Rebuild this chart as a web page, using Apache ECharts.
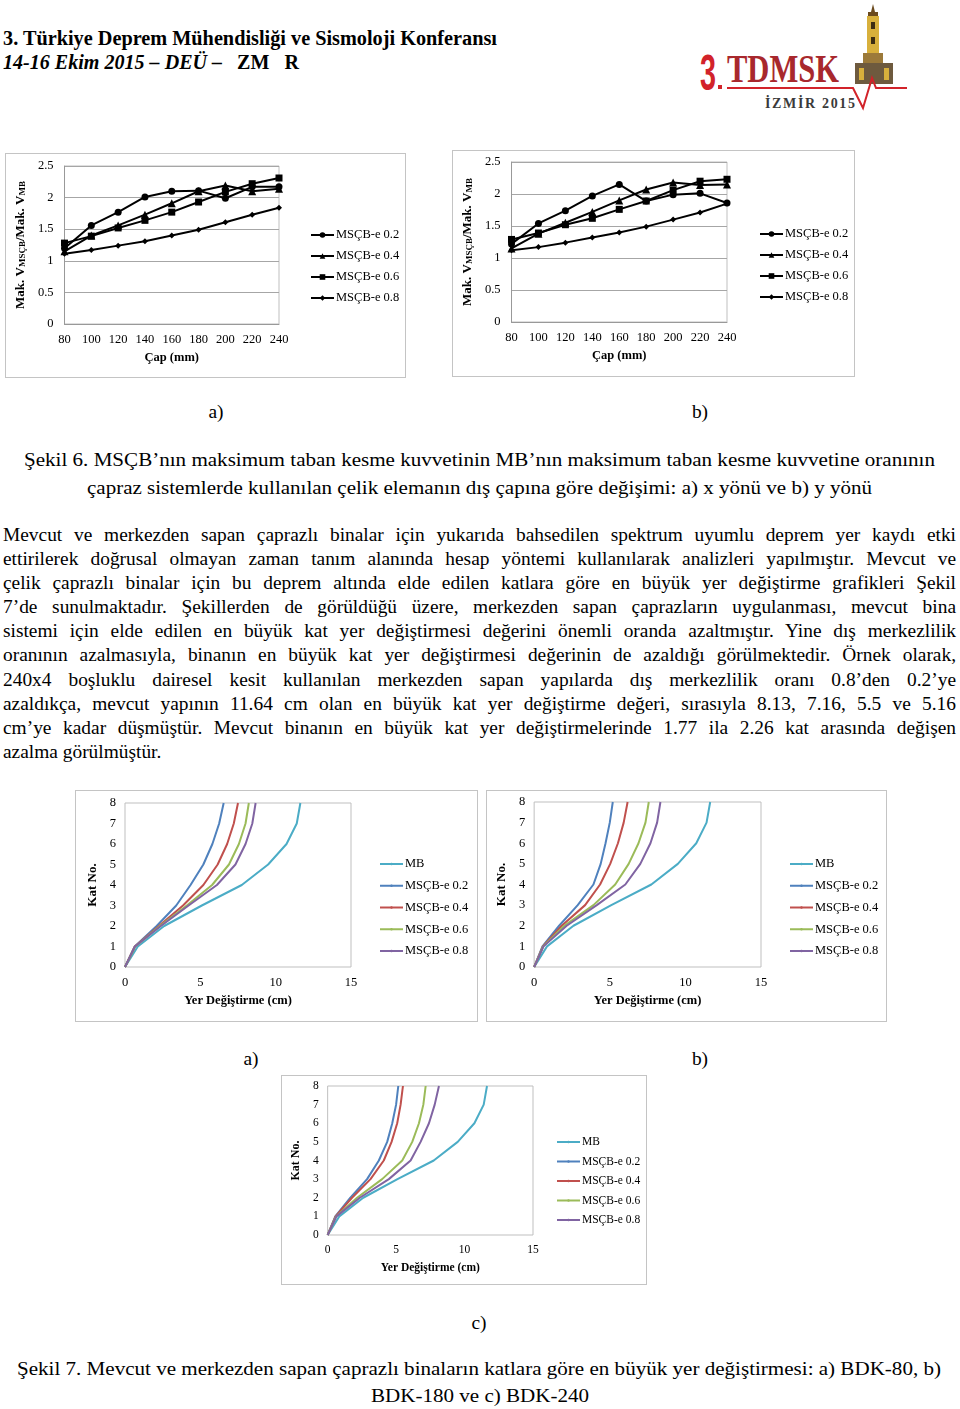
<!DOCTYPE html>
<html>
<head>
<meta charset="utf-8">
<script src="https://cdn.jsdelivr.net/npm/echarts/dist/echarts.min.js"></script>
<style>
  body { margin: 0; width: 960px; height: 1409px; position: relative; background: #fff;
         font-family: 'Liberation Serif', 'Times New Roman', serif; color: #000; overflow: hidden; }
  .t { position: absolute; white-space: nowrap; line-height: 24px; font-size: 19.4px; }
  .box { position: absolute; border: 1px solid #c4c4c4; }
</style>
</head>
<body>

<div class="t" data-fit="3,497" data-cy="38" style="font-weight:bold;font-size:20px">3. Türkiye Deprem Mühendisliği ve Sismoloji Konferansı</div>
<div class="t" data-fit="3,299" data-cy="62" style="font-weight:bold;font-size:20px"><i>14-16 Ekim 2015 – DEÜ – </i>&nbsp; ZM&nbsp;&nbsp; R</div>

<svg width="230" height="115" style="position:absolute;left:690px;top:0">
  <polygon points="181,12 183,4 185,12" fill="#6b4a1e"/>
  <rect x="178" y="12" width="10" height="4" fill="#6b4a1e"/>
  <rect x="177" y="16" width="12" height="38" fill="#d8b03c"/>
  <rect x="181" y="22" width="4" height="7" fill="#3c2c12"/>
  <rect x="181" y="37" width="4" height="7" fill="#3c2c12"/>
  <rect x="173" y="53" width="20" height="12" fill="#9c7a3a"/>
  <rect x="165" y="63" width="38" height="21" fill="#6e5a3e"/>
  <rect x="169" y="68" width="5" height="12" fill="#d8b03c"/>
  <rect x="194" y="68" width="5" height="12" fill="#d8b03c"/>
  <text x="10" y="90" font-family="Liberation Sans" font-weight="bold" font-size="50" fill="#d2232a" textLength="16" lengthAdjust="spacingAndGlyphs">3</text>
  <rect x="28" y="85" width="4" height="4" fill="#d2232a"/>
  <text x="37" y="82" font-family="Liberation Serif" font-weight="bold" font-size="40" fill="#a8282d" textLength="112" lengthAdjust="spacingAndGlyphs">TDMSK</text>
  <polyline points="37,88 163,88 173,108 182,78 186,88 217,88" fill="none" stroke="#d2232a" stroke-width="2"/>
  <text x="75" y="108" font-family="Liberation Serif" font-weight="bold" font-size="14" fill="#3a3a3a" textLength="90" lengthAdjust="spacing">İZMİR  2015</text>
</svg>

<div class="box" id="fig6a" style="left:5px;top:153px;width:399px;height:223px"></div>
<div class="box" id="fig6b" style="left:452px;top:150px;width:401px;height:225px"></div>

<div class="t" data-cx="216" data-cy="412">a)</div>
<div class="t" data-cx="700" data-cy="412">b)</div>

<div class="t" data-fit="24,935" data-cy="460">Şekil 6. MSÇB’nın maksimum taban kesme kuvvetinin MB’nın maksimum taban kesme kuvvetine oranının</div>
<div class="t" data-fit="87,872" data-cy="488">çapraz sistemlerde kullanılan çelik elemanın dış çapına göre değişimi: a) x yönü ve b) y yönü</div>

<div class="t" data-just="3,956" data-cy="535">Mevcut ve merkezden sapan çaprazlı binalar için yukarıda bahsedilen spektrum uyumlu deprem yer kaydı etki</div>
<div class="t" data-just="3,956" data-cy="559">ettirilerek doğrusal olmayan zaman tanım alanında hesap yöntemi kullanılarak analizleri yapılmıştır. Mevcut ve</div>
<div class="t" data-just="3,956" data-cy="583">çelik çaprazlı binalar için bu deprem altında elde edilen katlara göre en büyük yer değiştirme grafikleri Şekil</div>
<div class="t" data-just="3,956" data-cy="607">7’de sunulmaktadır. Şekillerden de görüldüğü üzere, merkezden sapan çaprazların uygulanması, mevcut bina</div>
<div class="t" data-just="3,956" data-cy="631">sistemi için elde edilen en büyük kat yer değiştirmesi değerini önemli oranda azaltmıştır. Yine dış merkezlilik</div>
<div class="t" data-just="3,956" data-cy="655">oranının azalmasıyla, binanın en büyük kat yer değiştirmesi değerinin de azaldığı görülmektedir. Örnek olarak,</div>
<div class="t" data-just="3,956" data-cy="680">240x4 boşluklu dairesel kesit kullanılan merkezden sapan yapılarda dış merkezlilik oranı 0.8’den 0.2’ye</div>
<div class="t" data-just="3,956" data-cy="704">azaldıkça, mevcut yapının 11.64 cm olan en büyük kat yer değiştirme değeri, sırasıyla 8.13, 7.16, 5.5 ve 5.16</div>
<div class="t" data-just="3,956" data-cy="728">cm’ye kadar düşmüştür. Mevcut binanın en büyük kat yer değiştirmelerinde 1.77 ila 2.26 kat arasında değişen</div>
<div class="t" data-left="3" data-cy="752">azalma görülmüştür.</div>

<div class="box" id="fig7a" style="left:75px;top:790px;width:401px;height:230px"></div>
<div class="box" id="fig7b" style="left:486px;top:790px;width:399px;height:230px"></div>

<div class="t" data-cx="251" data-cy="1059">a)</div>
<div class="t" data-cx="700" data-cy="1059">b)</div>

<div class="box" id="fig7c" style="left:281px;top:1075px;width:364px;height:208px"></div>

<div class="t" data-cx="479" data-cy="1323">c)</div>

<div class="t" data-fit="17,941" data-cy="1369">Şekil 7. Mevcut ve merkezden sapan çaprazlı binaların katlara göre en büyük yer değiştirmesi: a) BDK-80, b)</div>
<div class="t" data-fit="371,589" data-cy="1396">BDK-180 ve c) BDK-240</div>

<script>
// Şekil 6: çap (mm) kategorileri
const diameterLabels = ['80', '100', '120', '140', '160', '180', '200', '220', '240'];
const ratioSeriesNames = ['MSÇB-e 0.2', 'MSÇB-e 0.4', 'MSÇB-e 0.6', 'MSÇB-e 0.8'];

// a) x yönü
const ratioX_e02 = [1.20, 1.56, 1.77, 2.01, 2.10, 2.11, 1.99, 2.17, 2.17];
const ratioX_e04 = [1.15, 1.40, 1.56, 1.73, 1.91, 2.10, 2.19, 2.10, 2.14];
const ratioX_e06 = [1.28, 1.39, 1.52, 1.64, 1.77, 1.93, 2.09, 2.22, 2.31];
const ratioX_e08 = [1.11, 1.17, 1.24, 1.31, 1.40, 1.49, 1.61, 1.73, 1.84];

// b) y yönü
const ratioY_e02 = [1.22, 1.54, 1.74, 1.97, 2.15, 1.89, 1.99, 2.01, 1.86];
const ratioY_e04 = [1.15, 1.38, 1.55, 1.72, 1.90, 2.07, 2.18, 2.14, 2.15];
const ratioY_e06 = [1.29, 1.39, 1.52, 1.62, 1.76, 1.89, 2.06, 2.20, 2.23];
const ratioY_e08 = [1.12, 1.17, 1.24, 1.32, 1.40, 1.49, 1.60, 1.71, 1.85];

// Şekil 7: kat numaraları ve yer değiştirmeler (cm)
const floors = [0, 1, 2, 3, 4, 5, 6, 7, 8];
const dispSeriesNames = ['MB', 'MSÇB-e 0.2', 'MSÇB-e 0.4', 'MSÇB-e 0.6', 'MSÇB-e 0.8'];
const dispColors = ['#4bacc6', '#4f81bd', '#c0504d', '#9bbb59', '#8064a2'];

const dispMB = [0, 0.85, 2.6, 5.1, 7.75, 9.5, 10.72, 11.4, 11.64];

const bdk80_e02 = [0, 0.65, 2.1, 3.4, 4.35, 5.2, 5.8, 6.25, 6.55];
const bdk80_e04 = [0, 0.65, 2.25, 3.85, 5.2, 6.15, 6.78, 7.22, 7.5];
const bdk80_e06 = [0, 0.68, 2.32, 4.1, 5.78, 6.9, 7.56, 8.0, 8.22];
const bdk80_e08 = [0, 0.66, 2.38, 4.22, 6.1, 7.33, 8.0, 8.45, 8.67];

const bdk180_e02 = [0, 0.55, 1.65, 2.88, 3.92, 4.4, 4.72, 5.0, 5.2];
const bdk180_e04 = [0, 0.58, 1.82, 3.37, 4.36, 5.03, 5.54, 5.92, 6.18];
const bdk180_e06 = [0, 0.6, 1.99, 3.92, 5.36, 6.25, 6.9, 7.36, 7.58];
const bdk180_e08 = [0, 0.62, 2.15, 4.14, 6.03, 7.02, 7.69, 8.13, 8.35];

const bdk240_e02 = [0, 0.56, 1.66, 2.88, 3.74, 4.35, 4.72, 5.0, 5.16];
const bdk240_e04 = [0, 0.58, 1.78, 3.13, 4.1, 4.67, 5.08, 5.33, 5.5];
const bdk240_e06 = [0, 0.62, 2.15, 3.98, 5.45, 6.18, 6.67, 6.99, 7.16];
const bdk240_e08 = [0, 0.64, 2.35, 4.47, 6.06, 6.79, 7.4, 7.82, 8.13];

const FONT = 'Liberation Serif';
const ratioSymbols = [['circle', 7], ['triangle', 8], ['rect', 7], ['diamond', 6]];

const getRatioOption = (values, grid, legend) => {
  return {
    animation: false,
    textStyle: { fontFamily: FONT },
    grid: Object.assign({ show: true, borderColor: '#bfbfbf', borderWidth: 1 }, grid),
    legend: {
      orient: 'vertical',
      left: legend.left,
      top: legend.top,
      itemWidth: 23,
      itemHeight: 7,
      itemGap: 7,
      data: ratioSeriesNames,
      textStyle: { fontFamily: FONT, fontSize: 12.5, color: '#000', lineHeight: 14, padding: [0, 0, 0, -3] },
    },
    xAxis: {
      type: 'category',
      data: diameterLabels,
      boundaryGap: false,
      axisTick: { show: false },
      axisLine: { lineStyle: { color: '#999' } },
      axisLabel: { color: '#000', fontSize: 12.5, fontFamily: FONT, margin: 9 },
      name: 'Çap (mm)',
      nameLocation: 'middle',
      nameGap: 27,
      nameTextStyle: { color: '#000', fontWeight: 'bold', fontSize: 12.5, fontFamily: FONT },
    },
    yAxis: {
      type: 'value',
      min: 0,
      max: 2.5,
      interval: 0.5,
      axisLine: { show: true, lineStyle: { color: '#999' } },
      axisTick: { show: false },
      splitLine: { lineStyle: { color: '#a6a6a6' } },
      axisLabel: { color: '#000', fontSize: 12.5, fontFamily: FONT, margin: 11 },
      name: '{a|Mak. V}{s|MSÇB}{a|/Mak. V}{s|MB}',
      nameLocation: 'middle',
      nameGap: 28,
      nameTextStyle: {
        rich: {
          a: { fontFamily: FONT, fontWeight: 'bold', fontSize: 13, color: '#000' },
          s: { fontFamily: FONT, fontWeight: 'bold', fontSize: 9, color: '#000', verticalAlign: 'bottom' },
        },
      },
    },
    series: values.map((v, i) => ({
      name: ratioSeriesNames[i],
      type: 'line',
      data: v,
      symbol: ratioSymbols[i][0],
      symbolSize: ratioSymbols[i][1],
      lineStyle: { color: '#000', width: 2 },
      itemStyle: { color: '#000' },
    })),
  };
};

const getDispOption = (values, grid, legend, fs) => {
  return {
    animation: false,
    textStyle: { fontFamily: FONT },
    grid: Object.assign({ show: true, borderColor: '#bfbfbf', borderWidth: 1 }, grid),
    legend: {
      orient: 'vertical',
      left: legend.left,
      top: legend.top,
      itemWidth: 23,
      itemHeight: 3,
      itemGap: legend.gap,
      data: dispSeriesNames,
      textStyle: { fontFamily: FONT, fontSize: fs, color: '#000', lineHeight: 14, padding: [0, 0, 0, -3] },
    },
    xAxis: {
      type: 'value',
      min: 0,
      max: 15,
      interval: 5,
      axisLine: { show: false },
      axisTick: { show: false },
      splitLine: { show: false },
      axisLabel: { color: '#000', fontSize: fs, fontFamily: FONT, margin: 9 },
      name: 'Yer Değiştirme (cm)',
      nameLocation: 'middle',
      nameGap: 27,
      nameTextStyle: { color: '#000', fontWeight: 'bold', fontSize: fs, fontFamily: FONT },
    },
    yAxis: {
      type: 'value',
      min: 0,
      max: 8,
      interval: 1,
      axisLine: { show: false },
      axisTick: { show: false },
      splitLine: { show: false },
      axisLabel: { color: '#000', fontSize: fs, fontFamily: FONT, margin: 9 },
      name: 'Kat No.',
      nameLocation: 'middle',
      nameGap: 20,
      nameTextStyle: { color: '#000', fontWeight: 'bold', fontSize: fs + 0.5, fontFamily: FONT },
    },
    series: values.map((v, i) => ({
      name: dispSeriesNames[i],
      type: 'line',
      data: v.map((d, k) => [d, floors[k]]),
      symbol: 'none',
      lineStyle: { color: dispColors[i], width: 2 },
      itemStyle: { color: dispColors[i] },
    })),
  };
};

const initCharts = () => {
  const c6a = echarts.init(document.getElementById('fig6a'));
  c6a.setOption(getRatioOption(
    [ratioX_e02, ratioX_e04, ratioX_e06, ratioX_e08],
    { left: 58, right: 126, top: 12, bottom: 53 },
    { left: 299, top: 69 }
  ));

  const c6b = echarts.init(document.getElementById('fig6b'));
  c6b.setOption(getRatioOption(
    [ratioY_e02, ratioY_e04, ratioY_e06, ratioY_e08],
    { left: 56, right: 127, top: 11, bottom: 54 },
    { left: 301, top: 71 }
  ));

  const c7a = echarts.init(document.getElementById('fig7a'));
  c7a.setOption(getDispOption(
    [dispMB, bdk80_e02, bdk80_e04, bdk80_e06, bdk80_e08],
    { left: 49, right: 126, top: 12, bottom: 54 },
    { left: 298, top: 61, gap: 7.75 }, 12.5
  ));

  const c7b = echarts.init(document.getElementById('fig7b'));
  c7b.setOption(getDispOption(
    [dispMB, bdk180_e02, bdk180_e04, bdk180_e06, bdk180_e08],
    { left: 47, right: 125, top: 11, bottom: 54 },
    { left: 297, top: 61, gap: 7.75 }, 12.5
  ));

  const c7c = echarts.init(document.getElementById('fig7c'));
  c7c.setOption(getDispOption(
    [dispMB, bdk240_e02, bdk240_e04, bdk240_e06, bdk240_e08],
    { left: 45, right: 113, top: 10, bottom: 49 },
    { left: 269, top: 54, gap: 5.5 }, 11.5
  ));
};

const placeTexts = () => {
  document.querySelectorAll('.t').forEach((el) => {
    const w0 = el.getBoundingClientRect().width;
    const lh = parseFloat(getComputedStyle(el).lineHeight);
    el.style.top = (Number(el.dataset.cy) - lh / 2) + 'px';
    if (el.dataset.fit) {
      const [x1, x2] = el.dataset.fit.split(',').map(Number);
      el.style.left = x1 + 'px';
      el.style.transformOrigin = '0 50%';
      el.style.transform = 'scaleX(' + ((x2 - x1) / w0) + ')';
    } else if (el.dataset.just) {
      const [x1, x2] = el.dataset.just.split(',').map(Number);
      const spaces = (el.textContent.match(/ /g) || []).length;
      el.style.left = x1 + 'px';
      el.style.wordSpacing = ((x2 - x1 - w0) / spaces) + 'px';
    } else if (el.dataset.cx) {
      el.style.left = (Number(el.dataset.cx) - w0 / 2) + 'px';
    } else {
      el.style.left = el.dataset.left + 'px';
    }
  });
};

window.addEventListener('load', () => {
  placeTexts();
  initCharts();
});
</script>
</body>
</html>
